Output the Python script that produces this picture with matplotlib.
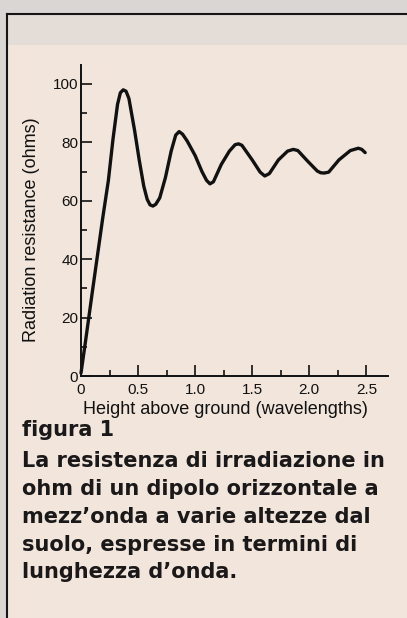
import matplotlib.pyplot as plt
from matplotlib.patches import Rectangle
from matplotlib.lines import Line2D
from matplotlib.ticker import MultipleLocator, FixedLocator

# Radiation resistance of a horizontal half-wave dipole vs. height
height = [0.00, 0.04, 0.10, 0.19, 0.24, 0.28, 0.32, 0.345, 0.37, 0.395,
          0.42, 0.47, 0.51, 0.55, 0.58, 0.605, 0.63, 0.655, 0.69, 0.74,
          0.79, 0.83, 0.86, 0.89, 0.93, 1.00, 1.06, 1.10, 1.13, 1.16,
          1.23, 1.30, 1.35, 1.38, 1.41, 1.50, 1.57, 1.61, 1.65, 1.73,
          1.81, 1.86, 1.90, 1.99, 2.07, 2.10, 2.13, 2.17, 2.26, 2.36,
          2.43, 2.46, 2.49]
resistance = [1, 12, 29, 54, 67, 81, 93, 97, 98, 97.5,
              95, 84, 74, 65, 60.5, 58.6, 58.2, 58.8, 61, 68,
              77, 82.5, 83.7, 82.8, 80.5, 75.5, 70, 67, 65.8, 66.5,
              72.5, 77, 79.2, 79.5, 79, 74, 69.8, 68.5, 69.3, 74,
              77, 77.6, 77.2, 73.4, 70.2, 69.6, 69.5, 69.8, 74, 77.2,
              78, 77.6, 76.5]

x_ticks = [0, 0.5, 1.0, 1.5, 2.0, 2.5]
x_labels = ['0', '0.5', '1.0', '1.5', '2.0', '2.5']
y_ticks = [0, 20, 40, 60, 80, 100]

caption_title = 'figura 1'
caption_lines = ['La resistenza di irradiazione in',
                 'ohm di un dipolo orizzontale a',
                 'mezz\u2019onda a varie altezze dal',
                 'suolo, espresse in termini di',
                 'lunghezza d\u2019onda.']

W, H = 407, 618
fig = plt.figure(figsize=(W / 100, H / 100), dpi=100)
fig.patch.set_facecolor('#d9d6d3')

# page box with its border (open to the right and bottom)
fig.patches.append(Rectangle((7 / W, 0), 1, 1 - 14 / H, transform=fig.transFigure,
                             facecolor='#f1e5dc', edgecolor='none', zorder=-5))
fig.patches.append(Rectangle((7 / W, 1 - 45 / H), 1, 31 / H, transform=fig.transFigure,
                             facecolor='#e4ddd7', edgecolor='none', zorder=-5))
fig.lines.append(Line2D([7 / W, 7 / W], [0, 1 - 14 / H], transform=fig.transFigure,
                        color='#151515', lw=1.5, zorder=-4))
fig.lines.append(Line2D([7 / W, 1], [1 - 14 / H, 1 - 14 / H], transform=fig.transFigure,
                        color='#151515', lw=1.5, zorder=-4))

ax = fig.add_axes([81 / W, 242 / H, 307 / W, 311 / H])
ax.set_facecolor('none')
ax.plot(height, resistance, color='#111111', lw=2.4,
        solid_joinstyle='round', solid_capstyle='round', clip_on=False)

ax.set_xlim(0, 2.69)
ax.set_ylim(0, 106.5)
for side in ('top', 'right'):
    ax.spines[side].set_visible(False)
for side in ('left', 'bottom'):
    ax.spines[side].set_linewidth(1.4)
    ax.spines[side].set_color('#111111')

ax.xaxis.set_major_locator(FixedLocator(x_ticks))
ax.set_xticklabels(x_labels)
ax.xaxis.set_minor_locator(FixedLocator([0.25, 0.75, 1.25, 1.75, 2.25]))
ax.yaxis.set_major_locator(FixedLocator(y_ticks))
ax.yaxis.set_minor_locator(MultipleLocator(10))

ax.tick_params(which='major', direction='in', length=8, width=1.2,
               color='#111111', labelsize=11, labelcolor='#111111')
ax.tick_params(which='minor', direction='in', length=4.5, width=1.2, color='#111111')
ax.tick_params(axis='x', which='major', pad=5)
ax.tick_params(axis='y', which='major', pad=2)
for lab in ax.get_xticklabels() + ax.get_yticklabels():
    lab.set_fontfamily('Liberation Sans')

ax.set_xlabel('Height above ground (wavelengths)', fontsize=13,
              family='Liberation Sans', color='#111111', va='center')
ax.set_ylabel('Radiation resistance (ohms)', fontsize=13,
              family='Liberation Sans', color='#111111', va='center')
ax.xaxis.set_label_coords(0.47, -0.109)
ax.yaxis.set_label_coords(-0.16, 0.47)

# caption
fig.text(22 / W, 1 - 430 / H, caption_title, family='DejaVu Sans', weight='bold',
         fontsize=15, color='#1a1818', va='center', ha='left')
fig.text(22 / W, 1 - 451 / H, '\n'.join(caption_lines), family='DejaVu Sans', weight='bold',
         fontsize=15, color='#1a1818', va='top', ha='left', linespacing=1.49)

fig.savefig('out.png', dpi=100, facecolor=fig.get_facecolor())
